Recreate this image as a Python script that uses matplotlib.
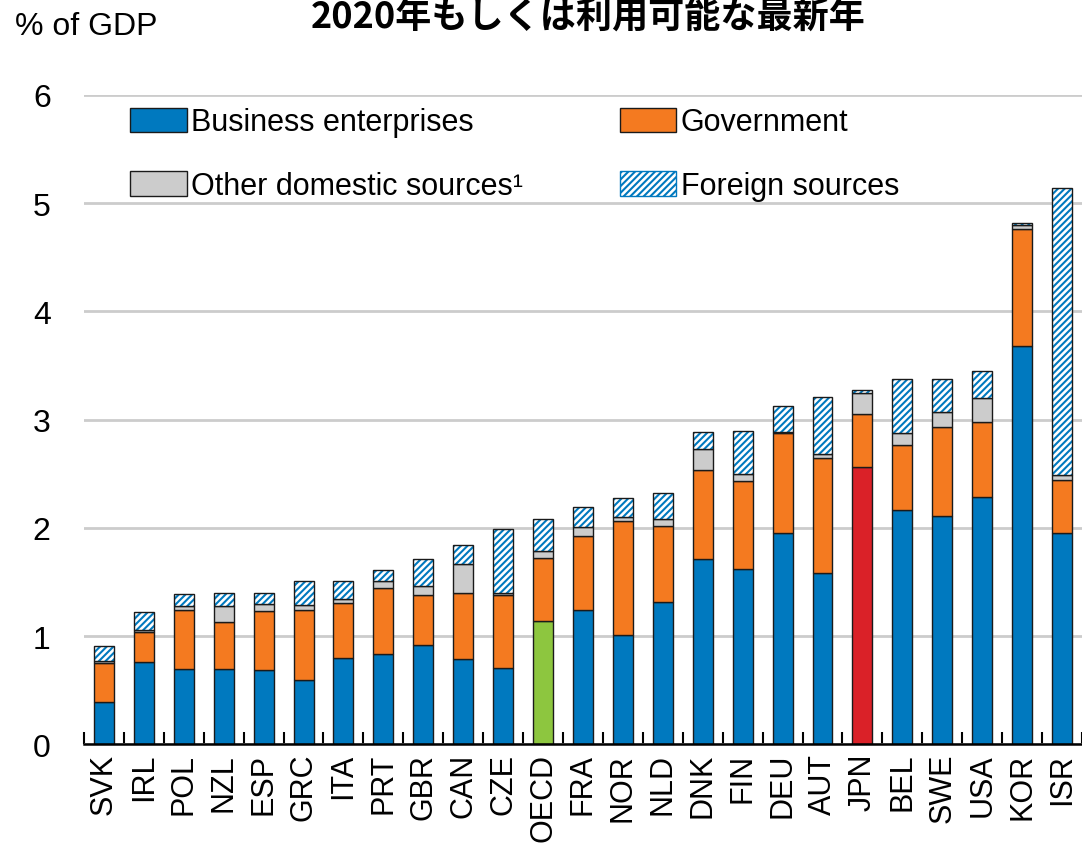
import numpy as np
import matplotlib
matplotlib.use("Agg")
import matplotlib.pyplot as plt
from matplotlib.patches import Patch

plt.rcParams['font.family'] = ['Liberation Sans Narrow', 'Liberation Sans', 'Noto Sans CJK JP']
plt.rcParams['hatch.linewidth'] = 1.5

countries = ['SVK', 'IRL', 'POL', 'NZL', 'ESP', 'GRC', 'ITA', 'PRT', 'GBR', 'CAN', 'CZE', 'OECD', 'FRA',
             'NOR', 'NLD', 'DNK', 'FIN', 'DEU', 'AUT', 'JPN', 'BEL', 'SWE', 'USA', 'KOR', 'ISR']
business = [0.39, 0.765, 0.695, 0.695, 0.685, 0.595, 0.80, 0.84, 0.915, 0.785, 0.705, 1.14, 1.24,
            1.01, 1.32, 1.71, 1.625, 1.955, 1.58, 2.56, 2.165, 2.11, 2.285, 3.68, 1.95]
government = [0.36, 0.275, 0.545, 0.44, 0.545, 0.65, 0.505, 0.605, 0.465, 0.615, 0.675, 0.58, 0.69,
              1.05, 0.70, 0.83, 0.81, 0.92, 1.065, 0.495, 0.605, 0.82, 0.69, 1.08, 0.495]
other = [0.025, 0.02, 0.04, 0.14, 0.07, 0.045, 0.035, 0.065, 0.08, 0.265, 0.02, 0.07, 0.08,
         0.04, 0.06, 0.19, 0.06, 0.015, 0.035, 0.195, 0.11, 0.145, 0.225, 0.04, 0.045]
foreign = [0.135, 0.165, 0.11, 0.125, 0.10, 0.22, 0.17, 0.105, 0.25, 0.175, 0.59, 0.295, 0.185,
           0.18, 0.245, 0.16, 0.405, 0.235, 0.53, 0.02, 0.495, 0.30, 0.25, 0.015, 2.65]

BLUE = '#0079BF'
ORANGE = '#F47A20'
GREY = '#CCCCCC'
GREEN = '#8DC63F'
RED = '#DA2128'
EDGE = '#1a1a1a'

bus_colors = [GREEN if c == 'OECD' else RED if c == 'JPN' else BLUE for c in countries]

fig = plt.figure(figsize=(10.82, 8.45), dpi=100)
ax = fig.add_axes([0.0776, 0.1178, 0.9224, 0.7686])

x = np.arange(len(countries))
w = 0.5
b = np.array(business)
g = np.array(government)
o = np.array(other)
f = np.array(foreign)

ax.bar(x, b, w, color=bus_colors, edgecolor=EDGE, linewidth=1.0, zorder=3)
ax.bar(x, g, w, bottom=b, color=ORANGE, edgecolor=EDGE, linewidth=1.0, zorder=3)
ax.bar(x, o, w, bottom=b + g, color=GREY, edgecolor=EDGE, linewidth=1.0, zorder=3)
ax.bar(x, f, w, bottom=b + g + o, color='white', edgecolor=BLUE, hatch='/////', linewidth=0, zorder=3)
ax.bar(x, f, w, bottom=b + g + o, fill=False, edgecolor=EDGE, linewidth=1.0, zorder=4)

ax.set_xlim(-0.5, 24.45)
ax.set_ylim(0, 6)
ax.set_yticks(range(0, 7))
ax.yaxis.grid(True, color='#CCCCCC', linewidth=2, zorder=0)
ax.set_axisbelow(True)

ax.set_xticks(x)
ax.set_xticklabels(countries, rotation=90, fontsize=22)
ax.set_xticks(np.arange(-0.5, 25, 1), minor=True)
ax.tick_params(axis='x', which='major', length=0, pad=6)
ax.tick_params(axis='x', which='minor', direction='in', length=9, width=1.5, color='black')
ax.tick_params(axis='y', length=0, pad=24, labelsize=23)

for s in ['top', 'right', 'left']:
    ax.spines[s].set_visible(False)
ax.spines['bottom'].set_linewidth(1.8)
ax.spines['bottom'].set_zorder(5)

handles = [
    Patch(facecolor=BLUE, edgecolor=EDGE, label='Business enterprises'),
    Patch(facecolor=GREY, edgecolor=EDGE, label='Other domestic sources\u00b9'),
    Patch(facecolor=ORANGE, edgecolor=EDGE, label='Government'),
    Patch(facecolor='white', edgecolor=BLUE, hatch='/////', label='Foreign sources'),
]
leg = ax.legend(handles=handles, ncol=2, frameon=False, fontsize=22, loc='upper left',
                bbox_to_anchor=(0.025, 1.014), handlelength=1.85, handleheight=0.85,
                handletextpad=0.15, columnspacing=3.15, labelspacing=1.1,
                borderpad=0.2)
leg.set_zorder(6)

fig.text(0.014, 0.968, '% of GDP', fontsize=23, va='center', ha='left')
fig.text(0.544, 0.980, '2020年もしくは利用可能な最新年', fontsize=26, fontweight='bold',
         va='center', ha='center', family=['Noto Sans CJK JP', 'DejaVu Sans'])

fig.savefig('out.png', dpi=100)
